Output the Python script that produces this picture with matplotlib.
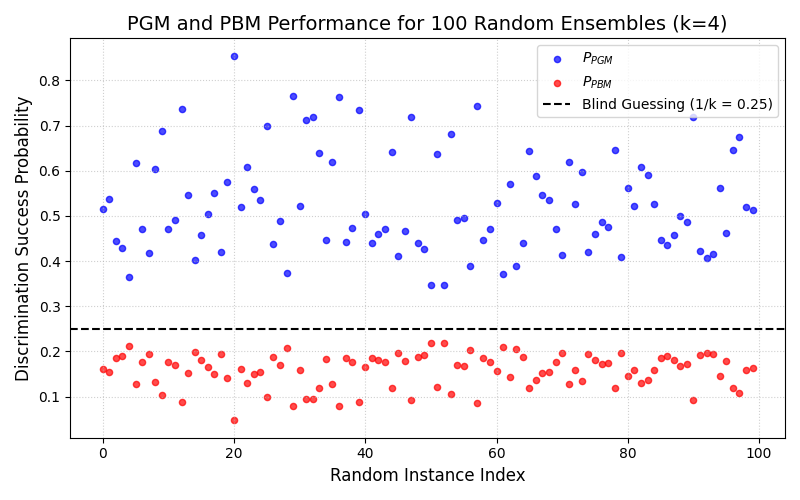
import matplotlib
matplotlib.use("Agg")
import matplotlib.pyplot as plt
import numpy as np

# Valeurs
p_pgm = [0.515, 0.537, 0.445, 0.428, 0.365, 0.617, 0.470, 0.418, 0.604, 0.688,
         0.470, 0.492, 0.736, 0.547, 0.403, 0.457, 0.505, 0.551, 0.420, 0.576,
         0.853, 0.520, 0.608, 0.560, 0.536, 0.700, 0.438, 0.489, 0.373, 0.765,
         0.522, 0.712, 0.719, 0.640, 0.447, 0.620, 0.763, 0.443, 0.474, 0.734,
         0.505, 0.441, 0.461, 0.472, 0.641, 0.412, 0.466, 0.719, 0.441, 0.426,
         0.347, 0.637, 0.347, 0.681, 0.491, 0.495, 0.390, 0.743, 0.446, 0.470,
         0.529, 0.371, 0.571, 0.388, 0.439, 0.644, 0.589, 0.547, 0.536, 0.472,
         0.414, 0.620, 0.526, 0.598, 0.421, 0.460, 0.487, 0.476, 0.646, 0.408,
         0.562, 0.522, 0.608, 0.591, 0.527, 0.447, 0.435, 0.458, 0.500, 0.487,
         0.720, 0.423, 0.406, 0.416, 0.562, 0.463, 0.646, 0.674, 0.520, 0.514]

p_pbm = [0.161, 0.155, 0.185, 0.190, 0.211, 0.128, 0.177, 0.194, 0.132, 0.104,
         0.177, 0.170, 0.088, 0.153, 0.198, 0.180, 0.165, 0.151, 0.194, 0.141,
         0.049, 0.161, 0.131, 0.149, 0.154, 0.100, 0.187, 0.170, 0.208, 0.078,
         0.159, 0.095, 0.095, 0.119, 0.183, 0.128, 0.080, 0.185, 0.176, 0.089,
         0.165, 0.185, 0.181, 0.177, 0.118, 0.196, 0.179, 0.093, 0.187, 0.191,
         0.218, 0.121, 0.218, 0.106, 0.170, 0.168, 0.202, 0.086, 0.185, 0.176,
         0.157, 0.209, 0.143, 0.205, 0.187, 0.119, 0.137, 0.152, 0.154, 0.176,
         0.196, 0.128, 0.159, 0.135, 0.194, 0.181, 0.172, 0.174, 0.119, 0.196,
         0.146, 0.159, 0.130, 0.137, 0.159, 0.186, 0.190, 0.181, 0.167, 0.172,
         0.093, 0.191, 0.197, 0.194, 0.145, 0.178, 0.119, 0.108, 0.159, 0.163]

k = 4
instances = np.arange(len(p_pgm))

plt.figure(figsize=(8, 5), dpi=100)
plt.scatter(instances, p_pgm, color="blue", alpha=0.7, s=20, label=r"$P_{PGM}$")
plt.scatter(instances, p_pbm, color="red", alpha=0.7, s=20, label=r"$P_{PBM}$")
plt.axhline(1 / k, color="black", linestyle="--", label=f"Blind Guessing (1/k = {1 / k})")
plt.xlabel("Random Instance Index", fontsize=12)
plt.ylabel("Discrimination Success Probability", fontsize=12)
plt.title(f"PGM and PBM Performance for {len(p_pgm)} Random Ensembles (k={k})", fontsize=14)
plt.legend(loc="upper right")
plt.grid(True, linestyle=":", alpha=0.6)
plt.tight_layout()
plt.savefig("out.png")
